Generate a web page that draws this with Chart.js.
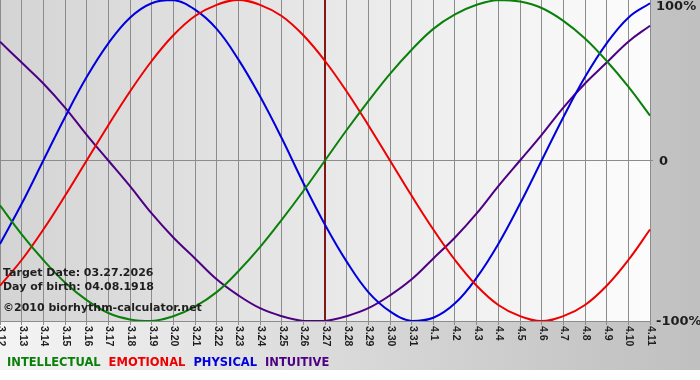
<!DOCTYPE html>
<html>
<head>
<meta charset="utf-8">
<script src="https://cdn.jsdelivr.net/npm/chart.js@4.4.1/dist/chart.umd.min.js"></script>
<style>
  html, body { margin: 0; padding: 0; background: #fff; }
  #wrap { width: 700px; height: 380px; position: relative; }
</style>
</head>
<body>
<div id="wrap"><canvas id="chart"></canvas></div>
<script>
// day labels on the x axis (month.day)
const DAYS = ['3.12', '3.13', '3.14', '3.15', '3.16', '3.17', '3.18', '3.19', '3.20', '3.21',
    '3.22', '3.23', '3.24', '3.25', '3.26', '3.27', '3.28', '3.29', '3.30', '3.31',
    '4.1', '4.2', '4.3', '4.4', '4.5', '4.6', '4.7', '4.8', '4.9', '4.10', '4.11'];
const TARGET_DAY = '3.27';

// cycle values in percent, one per day
const INTELLECTUAL = [-28, -46, -62, -76, -87, -95, -99, -100, -97, -91, -82, -69, -54, -37, -19, 0,
    19, 37, 54, 69, 82, 91, 97, 100, 99, 95, 87, 76, 62, 46, 28];
const EMOTIONAL = [-78, -62, -43, -22, 0, 22, 43, 62, 78, 90, 97, 100, 97, 90, 78, 62,
    43, 22, 0, -22, -43, -62, -78, -90, -97, -100, -97, -90, -78, -62, -43];
const PHYSICAL = [-52, -27, 0, 27, 52, 73, 89, 98, 100, 94, 82, 63, 40, 14, -14, -40,
    -63, -82, -94, -100, -98, -89, -73, -52, -27, 0, 27, 52, 73, 89, 98];
const INTUITIVE = [74, 61, 48, 33, 16, 0, -16, -33, -48, -61, -74, -84, -92, -97, -100, -100,
    -97, -92, -84, -74, -61, -48, -33, -16, 0, 16, 33, 48, 61, 74, 84];

const Y_TICKS = [100, 0, -100];
const Y_LABELS = ['100%', '0', '-100%'];

const INFO_LINES = ['Target Date: 03.27.2026', 'Day of birth: 04.08.1918', '\u00a92010 biorhythm-calculator.net'];

const SERIES = [
    { label: 'INTELLECTUAL', data: INTELLECTUAL, color: '#0a800a' },
    { label: 'EMOTIONAL', data: EMOTIONAL, color: '#ee0000' },
    { label: 'PHYSICAL', data: PHYSICAL, color: '#0000dd' },
    { label: 'INTUITIVE', data: INTUITIVE, color: '#4e0084' },
];

const GRID = '#8c8c8c';
const TEXT = '#1e1e1e';

// backgrounds: page band, plot gradient, target line
const backdrop = {
    id: 'backdrop',
    beforeDraw(chart) {
        const { ctx, chartArea: a, width } = chart;
        ctx.save();
        ctx.fillStyle = '#ffffff';
        ctx.fillRect(0, 0, width, chart.height);
        const outer = ctx.createLinearGradient(0, 0, width, 0);
        outer.addColorStop(0, '#f4f4f4');
        outer.addColorStop(0.85, '#c6c6c6');
        outer.addColorStop(1, '#c0c0c0');
        ctx.fillStyle = outer;
        ctx.fillRect(0, 0, width, 370);
        const inner = ctx.createLinearGradient(a.left, 0, a.right, 0);
        inner.addColorStop(0, '#d4d4d4');
        inner.addColorStop(1, '#fcfcfc');
        ctx.fillStyle = inner;
        ctx.fillRect(a.left, a.top, a.right - a.left, a.bottom - a.top);
        ctx.restore();
    },
    beforeDatasetsDraw(chart) {
        const { ctx, chartArea: a } = chart;
        const x = chart.scales.x.getPixelForValue(DAYS.indexOf(TARGET_DAY));
        ctx.save();
        ctx.strokeStyle = '#801818';
        ctx.lineWidth = 2;
        ctx.beginPath();
        ctx.moveTo(x, a.top);
        ctx.lineTo(x, a.bottom);
        ctx.stroke();
        ctx.restore();
    },
};

// rotated day labels, right-hand % labels, info text and colored legend
const labels = {
    id: 'labels',
    afterDraw(chart) {
        const { ctx, chartArea: a } = chart;
        const xs = chart.scales.x, ys = chart.scales.y;
        ctx.save();
        ctx.fillStyle = TEXT;

        ctx.font = 'bold 10.5px "Liberation Sans"';
        ctx.textAlign = 'left';
        ctx.textBaseline = 'middle';
        DAYS.forEach((d, i) => {
            ctx.save();
            ctx.translate(xs.getPixelForTick(i) + 1, a.bottom + 5);
            ctx.rotate(Math.PI / 2);
            ctx.fillText(d, 0, 0);
            ctx.restore();
        });

        ctx.font = 'bold 13px "DejaVu Sans"';
        Y_TICKS.forEach((v, i) => {
            const y = Math.max(ys.getPixelForValue(v) + 1, 7);
            ctx.fillText(Y_LABELS[i], a.right + (v === 0 ? 9 : 6), y);
        });

        ctx.font = 'bold 11px "DejaVu Sans"';
        ctx.textBaseline = 'alphabetic';
        ctx.fillText(INFO_LINES[0], 3, 276, 151);
        ctx.fillText(INFO_LINES[1], 3, 290, 151);
        ctx.fillText(INFO_LINES[2], 3, 311, 200);

        ctx.font = 'bold 11.5px "DejaVu Sans"';
        let x = 7;
        SERIES.forEach(s => {
            ctx.fillStyle = s.color;
            ctx.fillText(s.label, x, 366);
            x += ctx.measureText(s.label).width + 8;
        });
        ctx.restore();
    },
};

new Chart(document.getElementById('chart'), {
    type: 'line',
    data: {
        labels: DAYS,
        datasets: SERIES.map(s => ({
            label: s.label,
            data: s.data,
            borderColor: s.color,
            borderWidth: 2,
            pointRadius: 0,
            tension: 0.4,
            fill: false,
        })),
    },
    options: {
        responsive: true,
        maintainAspectRatio: false,
        animation: false,
        layout: { padding: 0 },
        scales: {
            x: {
                offset: false,
                ticks: { display: false },
                grid: { color: GRID, lineWidth: 1, drawTicks: true, tickLength: 4, tickColor: GRID },
                border: { display: true, color: GRID },
                afterFit: (s) => { s.height = 59; },
            },
            y: {
                position: 'right',
                min: -100,
                max: 100,
                ticks: { display: false, stepSize: 100 },
                grid: {
                    color: (c) => (c.tick && c.tick.value === 0 ? GRID : 'rgba(0,0,0,0)'),
                    tickLength: 3,
                },
                border: { display: false },
                afterFit: (s) => { s.width = 50; },
            },
        },
        plugins: {
            legend: { display: false },
            tooltip: { enabled: false },
        },
    },
    plugins: [backdrop, labels],
});
</script>
</body>
</html>
